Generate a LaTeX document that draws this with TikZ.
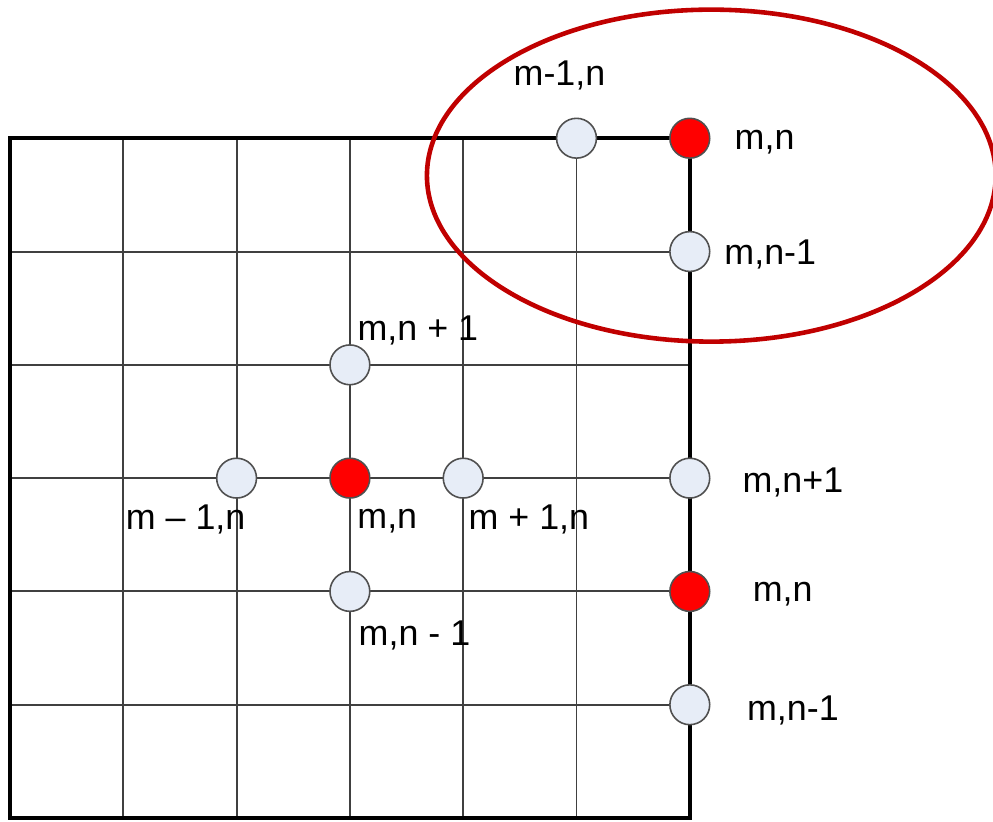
\documentclass[tikz,border=0pt]{standalone}
\usepackage{fontspec}
\setmainfont{Liberation Sans}
\definecolor{ptfill}{RGB}{231,237,247}
\definecolor{ptline}{RGB}{80,80,80}
\definecolor{ringred}{RGB}{192,0,0}
\tikzset{
  gridpt/.style={circle, draw=ptline, line width=0.8pt, fill=ptfill, minimum size=20pt, inner sep=0pt},
  redpt/.style={gridpt, fill=red},
  lbl/.style={font=\fontsize{18}{21}\selectfont, inner sep=0pt, yshift=-1.5pt},
}
\begin{document}
\begin{tikzpicture}[x=2cm, y=2cm]
  \useasboundingbox (-0.088,-0.026) rectangle (8.676,7.22);
  % grid
  \foreach \i in {1,...,5} {
    \draw[line width=1pt, black!75] (\i,0) -- (\i,6);
    \draw[line width=1pt, black!75] (0,\i) -- (6,\i);
  }
  \draw[line width=2.2pt] (0,0) rectangle (6,6);
  % boundary region
  \draw[ringred, line width=2.3pt] (6.19,5.67) ellipse (2.51 and 1.465);

  % corner
  \node[gridpt] (t1) at (5,6) {};
  \node[redpt]  (t2) at (6,6) {};
  \node[gridpt] (t3) at (6,5) {};
  \node[lbl] (t1l) at (4.85,6.58) {m-1,n};
  \node[lbl] (t2l) at (6.66,5.99) {m,n};
  \node[lbl] (t3l) at (6.71,5.00) {m,n-1};

  % interior
  \node[gridpt] (cn) at (3,4) {};
  \node[gridpt] (cw) at (2,3) {};
  \node[redpt]  (cc) at (3,3) {};
  \node[gridpt] (ce) at (4,3) {};
  \node[gridpt] (cs) at (3,2) {};
  \node[lbl] (cnl) at (3.60,4.33) {m,n + 1};
  \node[lbl] (cwl) at (1.55,2.66) {m – 1,n};
  \node[lbl] (ccl) at (3.33,2.65) {m,n};
  \node[lbl] (cel) at (4.58,2.66) {m + 1,n};
  \node[lbl] (csl) at (3.57,1.64) {m,n - 1};

  % edge
  \node[gridpt] (r1) at (6,3) {};
  \node[redpt]  (r2) at (6,2) {};
  \node[gridpt] (r3) at (6,1) {};
  \node[lbl] (r1l) at (6.91,2.99) {m,n+1};
  \node[lbl] (r2l) at (6.82,2.00) {m,n};
  \node[lbl] (r3l) at (6.91,0.98) {m,n-1};
\end{tikzpicture}
\end{document}
